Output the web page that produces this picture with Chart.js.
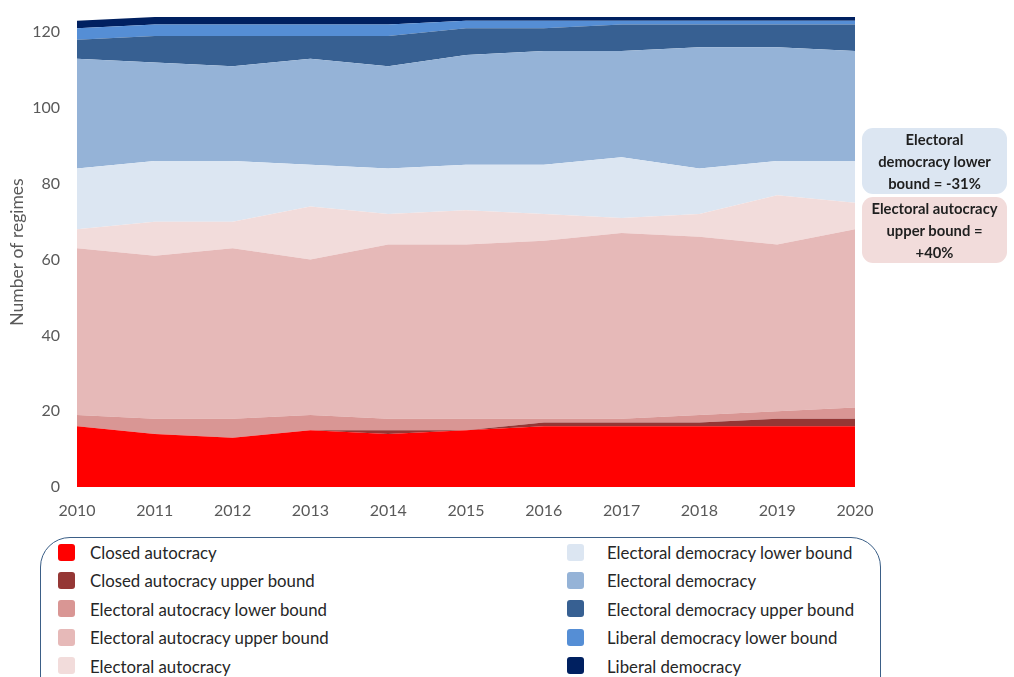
<!DOCTYPE html>
<html>
<head>
<meta charset="utf-8">
<title>Regimes 2010-2020</title>
<script src="https://cdn.jsdelivr.net/npm/chart.js@4/dist/chart.umd.min.js"></script>
<style>
  body {
    margin: 0;
    width: 1014px;
    height: 677px;
    overflow: hidden;
    background: #fff;
    position: relative;
    font-family: Lato, "Open Sans", sans-serif;
  }
  #wrap { position: absolute; left: 0; top: 0; }
  #legendBox {
    position: absolute;
    left: 40px;
    top: 537px;
    width: 841px;
    height: 180px;
    border: 1.5px solid #3b5f87;
    border-radius: 30px;
    box-sizing: border-box;
  }
  .swatch {
    position: absolute;
    width: 17px;
    height: 17px;
    border-radius: 3px;
  }
  .label {
    position: absolute;
    font-size: 16.8px;
    line-height: 20px;
    color: #262626;
    white-space: nowrap;
  }
  .note {
    position: absolute;
    left: 862px;
    width: 145px;
    border-radius: 11px;
    font-weight: bold;
    font-size: 14.8px;
    line-height: 22px;
    color: #1f1f1f;
    text-align: center;
    display: flex;
    align-items: center;
    justify-content: center;
  }
</style>
</head>
<body>
<div id="wrap"><canvas id="graph" width="900" height="530"></canvas></div>
<div id="legendBox"></div>
<div id="legend"></div>
<div class="note" style="top:128px;height:66px;background:#dce6f2;">Electoral<br>democracy lower<br>bound = -31%</div>
<div class="note" style="top:197px;height:66px;background:#f2dcdb;">Electoral autocracy<br>upper bound =<br>+40%</div>
<script>
// years along the x axis
const years = ['2010', '2011', '2012', '2013', '2014', '2015', '2016', '2017', '2018', '2019', '2020']

// number of regimes per category, stacked bottom to top
const closedAutocracy = [16, 14, 13, 15, 14, 15, 16, 16, 16, 16, 16]
const closedAutocracyUpper = [0, 0, 0, 0, 1, 0, 1, 1, 1, 2, 2]
const electoralAutocracyLower = [3, 4, 5, 4, 3, 3, 1, 1, 2, 2, 3]
const electoralAutocracyUpper = [44, 43, 45, 41, 46, 46, 47, 49, 47, 44, 47]
const electoralAutocracy = [5, 9, 7, 14, 8, 9, 7, 4, 6, 13, 7]
const electoralDemocracyLower = [16, 16, 16, 11, 12, 12, 13, 16, 12, 9, 11]
const electoralDemocracy = [29, 26, 25, 28, 27, 29, 30, 28, 32, 30, 29]
const electoralDemocracyUpper = [5, 7, 8, 6, 8, 7, 6, 7, 6, 6, 7]
const liberalDemocracyLower = [3, 3, 3, 3, 3, 2, 2, 1, 1, 1, 1]
const liberalDemocracy = [2, 2, 2, 2, 2, 1, 1, 1, 1, 1, 1]

// y axis ticks
const yTicks = [0, 20, 40, 60, 80, 100, 120]

/**
 * Legend names and fill colours, in stacking order.
 */
const PLOTS = [
  { label: 'Closed autocracy', colour: '#ff0000', data: closedAutocracy },
  { label: 'Closed autocracy upper bound', colour: '#953735', data: closedAutocracyUpper },
  { label: 'Electoral autocracy lower bound', colour: '#d99694', data: electoralAutocracyLower },
  { label: 'Electoral autocracy upper bound', colour: '#e6b9b8', data: electoralAutocracyUpper },
  { label: 'Electoral autocracy', colour: '#f2dcdb', data: electoralAutocracy },
  { label: 'Electoral democracy lower bound', colour: '#dce6f2', data: electoralDemocracyLower },
  { label: 'Electoral democracy', colour: '#95b3d7', data: electoralDemocracy },
  { label: 'Electoral democracy upper bound', colour: '#376092', data: electoralDemocracyUpper },
  { label: 'Liberal democracy lower bound', colour: '#558ed5', data: liberalDemocracyLower },
  { label: 'Liberal democracy', colour: '#002060', data: liberalDemocracy },
]

const AXIS_FONT = { family: 'Lato', size: 16 }
const AXIS_COLOUR = '#595959'

const ctx = document.getElementById('graph').getContext('2d')

const graph = new Chart(ctx, {
  type: 'line',
  data: {
    labels: years,
    datasets: PLOTS.map((plot, i) => ({
      label: plot.label,
      data: plot.data,
      backgroundColor: plot.colour,
      borderColor: plot.colour,
      borderWidth: 0,
      pointRadius: 0,
      tension: 0,
      fill: i === 0 ? 'origin' : '-1',
    })),
  },
  options: {
    responsive: false,
    animation: false,
    layout: { padding: { top: 17, right: 45, left: 0, bottom: 0 } },
    plugins: {
      legend: { display: false },
      tooltip: { enabled: false },
    },
    scales: {
      x: {
        offset: false,
        grid: { display: false, drawTicks: false },
        border: { display: false },
        ticks: { color: AXIS_COLOUR, font: AXIS_FONT, padding: 14, maxRotation: 0 },
        afterFit: (scale) => { scale.height = 43 },
      },
      y: {
        stacked: true,
        min: 0,
        max: 124,
        grid: { display: false, drawTicks: false },
        border: { display: false },
        ticks: { color: AXIS_COLOUR, font: AXIS_FONT, padding: 17, stepSize: 20 },
        afterBuildTicks: (scale) => {
          scale.ticks = yTicks.map((v) => ({ value: v }))
        },
        title: {
          display: true,
          text: 'Number of regimes',
          color: AXIS_COLOUR,
          font: { family: 'Lato', size: 17.5 },
          padding: { top: 7, bottom: 0 },
        },
        afterFit: (scale) => {
          // fixed axis width; the tick padding must not push the plot top down
          scale.width = 77
          scale.paddingTop = 0
          scale.paddingBottom = 0
        },
      },
    },
  },
})

// two-column legend under the chart, built from the datasets
const legend = document.getElementById('legend')
graph.data.datasets.forEach((ds, i) => {
  const col = Math.floor(i / 5)
  const row = i % 5
  const cy = 552 + row * 28.4
  const swatch = document.createElement('div')
  swatch.className = 'swatch'
  swatch.style.left = (col ? 567 : 58) + 'px'
  swatch.style.top = (cy - 8.5) + 'px'
  swatch.style.background = ds.backgroundColor
  const label = document.createElement('div')
  label.className = 'label'
  label.style.left = (col ? 607 : 90) + 'px'
  label.style.top = (cy - 9) + 'px'
  label.textContent = ds.label
  legend.appendChild(swatch)
  legend.appendChild(label)
})
</script>
</body>
</html>
